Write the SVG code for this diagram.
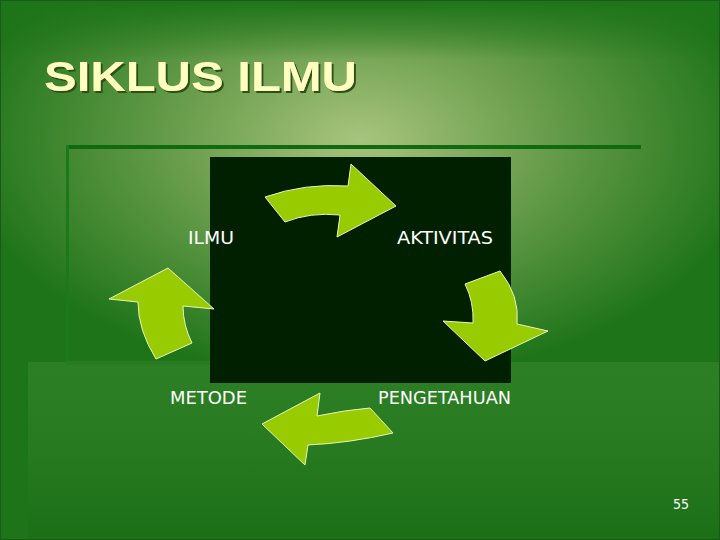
<svg xmlns="http://www.w3.org/2000/svg" width="720" height="540" viewBox="0 0 720 540">
<defs>
<radialGradient id="bg" cx="360" cy="140" r="400" gradientUnits="userSpaceOnUse" gradientTransform="translate(0,140) scale(1,0.6) translate(0,-140)">
<stop offset="0" stop-color="#a8c47e"/><stop offset="0.45" stop-color="#6a9e4c"/><stop offset="1" stop-color="#1e7419"/>
</radialGradient>
<linearGradient id="low" x1="0" y1="0" x2="0" y2="1">
<stop offset="0" stop-color="#3a8a2e" stop-opacity="0.5"/><stop offset="1" stop-color="#1a6e16" stop-opacity="0.9"/>
</linearGradient>
<linearGradient id="top" x1="0" y1="0" x2="0" y2="1">
<stop offset="0" stop-color="#1e7419"/><stop offset="1" stop-color="#1e7419" stop-opacity="0"/>
</linearGradient>
<filter id="sh" x="-5%" y="-20%" width="110%" height="140%">
<feDropShadow dx="2" dy="2" stdDeviation="0.5" flood-color="#2f4f18"/>
</filter>
</defs>
<style>
.arrow{fill:#99cc00;stroke:#e8f5c0;stroke-width:1}
.lbl{font-family:"DejaVu Sans Condensed","Liberation Sans",sans-serif;font-size:18px;fill:#ffffff}
</style>
<rect width="720" height="540" fill="url(#bg)"/>
<rect width="720" height="60" fill="url(#top)"/>
<rect x="28" y="362" width="692" height="178" fill="url(#low)"/>
<rect x="66" y="145" width="575" height="4" fill="#0f6a10"/>
<rect x="66" y="145" width="3" height="218" fill="#1a7a18"/>
<rect x="66" y="361" width="320" height="4" fill="#2a7a22"/>
<rect x="0" y="0" width="720" height="540" fill="none" stroke="#1a5a14" stroke-width="2"/>
<text x="44" y="91" font-family="Liberation Sans,Arial,sans-serif" font-weight="bold" font-size="42" fill="#ffffc0" textLength="313" lengthAdjust="spacingAndGlyphs" filter="url(#sh)">SIKLUS ILMU</text>
<rect id="panel" x="210" y="157" width="301" height="226" fill="#002000"/>
<g id="connectors">
<path class="arrow" d="M265,197 Q305,183 348,186 L351,164 L396,206 L337,237 L340,215 Q310,212 285,222 Z"/>
<path class="arrow" d="M500,271 Q520,296 517,324 L548,331 L485,361 L443,321 L473,323 Q474,302 465,284 Z"/>
<path class="arrow" d="M393,433 Q350,443 308,445 L305,465 L262,424 L320,393 L317,416 Q345,410 370,408 Z"/>
<path class="arrow" d="M156,359 Q138,330 138,302 L109,299 L168,268 L214,309 L183,306 Q183,325 192,343 Z"/>
</g>
<g id="ilmu"><text class="lbl" x="188" y="244" textLength="46" lengthAdjust="spacingAndGlyphs">ILMU</text></g>
<g id="aktivitas"><text class="lbl" x="397" y="244" textLength="96" lengthAdjust="spacingAndGlyphs">AKTIVITAS</text></g>
<g id="pengetahuan"><text class="lbl" x="378" y="404" textLength="133" lengthAdjust="spacingAndGlyphs">PENGETAHUAN</text></g>
<g id="metode"><text class="lbl" x="170" y="404" textLength="77" lengthAdjust="spacingAndGlyphs">METODE</text></g>
<text x="673" y="509" font-family="DejaVu Sans Condensed,Liberation Sans,sans-serif" font-size="14" fill="#ffffff">55</text>
</svg>
